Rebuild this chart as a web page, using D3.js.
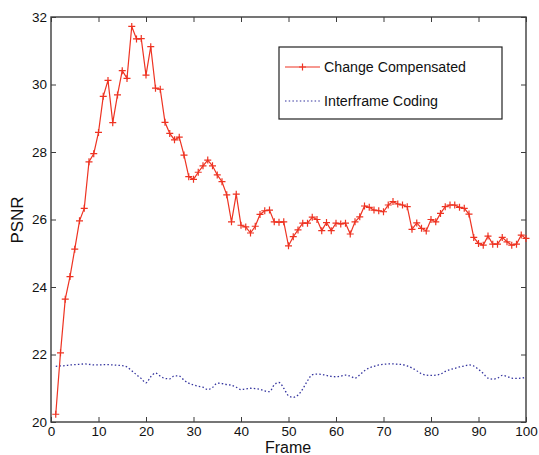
<!DOCTYPE html>
<html>
<head>
<meta charset="utf-8">
<script src="https://cdn.jsdelivr.net/npm/d3@7"></script>
<style>
  body { margin: 0; background: #fff; }
  svg { display: block; font-family: "Liberation Sans", Arial, sans-serif; }
</style>
</head>
<body>
<div id="chart"></div>
<script>
// PSNR per frame
const frames = d3.range(1, 101);

const changeCompensated = [
  20.23, 22.05, 23.64, 24.31, 25.12, 25.96, 26.33, 27.71, 27.95, 28.58,
  29.65, 30.12, 28.87, 29.69, 30.41, 30.18, 31.72, 31.35, 31.36, 30.28,
  31.12, 29.89, 29.86, 28.88, 28.55, 28.36, 28.44, 27.91, 27.27, 27.19,
  27.40, 27.59, 27.76, 27.59, 27.32, 27.12, 26.73, 25.93, 26.75, 25.83,
  25.78, 25.60, 25.80, 26.15, 26.26, 26.28, 25.93, 25.92, 25.93, 25.22,
  25.49, 25.69, 25.89, 25.89, 26.07, 26.00, 25.67, 25.91, 25.67, 25.89,
  25.87, 25.89, 25.57, 25.93, 26.08, 26.40, 26.36, 26.28, 26.26, 26.23,
  26.43, 26.53, 26.46, 26.43, 26.38, 25.71, 25.90, 25.74, 25.66, 26.00,
  25.93, 26.18, 26.38, 26.43, 26.43, 26.36, 26.33, 26.16, 25.47, 25.29,
  25.24, 25.51, 25.27, 25.27, 25.47, 25.34, 25.24, 25.27, 25.54, 25.44
];

const interframeCoding = [
  21.65, 21.66, 21.67, 21.69, 21.70, 21.71, 21.72, 21.71, 21.69, 21.69,
  21.70, 21.70, 21.69, 21.68, 21.67, 21.63, 21.52, 21.40, 21.29, 21.16,
  21.34, 21.45, 21.36, 21.29, 21.28, 21.37, 21.36, 21.24, 21.15, 21.10,
  21.06, 21.03, 20.96, 21.02, 21.15, 21.14, 21.11, 21.09, 21.03, 20.96,
  20.98, 21.00, 20.99, 20.97, 20.92, 20.90, 21.10, 21.17, 21.00, 20.78,
  20.73, 20.80, 20.98, 21.22, 21.40, 21.42, 21.41, 21.38, 21.35, 21.34,
  21.36, 21.39, 21.36, 21.30, 21.40, 21.52, 21.60, 21.65, 21.69, 21.71,
  21.72, 21.72, 21.71, 21.70, 21.66, 21.60, 21.52, 21.43, 21.39, 21.38,
  21.39, 21.42, 21.50, 21.55, 21.59, 21.63, 21.66, 21.69, 21.66, 21.56,
  21.44, 21.30, 21.27, 21.30, 21.38, 21.35, 21.30, 21.29, 21.30, 21.32
];

const xTicks = [0, 10, 20, 30, 40, 50, 60, 70, 80, 90, 100];
const yTicks = [20, 22, 24, 26, 28, 30, 32];
const seriesNames = ['Change Compensated', 'Interframe Coding'];

const width = 539, height = 455;
const margin = { top: 17, right: 13, bottom: 33, left: 51 };
const innerW = width - margin.left - margin.right;
const innerH = height - margin.top - margin.bottom;

const RED = '#ee3322';
const BLUE = '#33339e';
const AXIS = '#3c3c3c';

const svg = d3.select('#chart').append('svg')
  .attr('width', width)
  .attr('height', height);

const g = svg.append('g')
  .attr('transform', `translate(${margin.left},${margin.top})`);

const x = d3.scaleLinear().domain([0, 100]).range([0, innerW]);
const y = d3.scaleLinear().domain([20, 32]).range([innerH, 0]);

// 坐标轴（刻度朝内，四边都有）
const styleAxis = sel => {
  sel.select('.domain').remove();
  sel.selectAll('line').attr('stroke', AXIS);
  sel.selectAll('text').attr('fill', '#111').attr('font-size', '13.5px');
};

g.append('g')
  .attr('transform', `translate(0,${innerH})`)
  .call(d3.axisBottom(x).tickValues(xTicks).tickSizeInner(-5).tickSizeOuter(0).tickPadding(4))
  .call(styleAxis);

g.append('g')
  .call(d3.axisTop(x).tickValues(xTicks).tickSizeInner(-5).tickSizeOuter(0).tickFormat(''))
  .call(styleAxis);

g.append('g')
  .call(d3.axisLeft(y).tickValues(yTicks).tickSizeInner(-5).tickSizeOuter(0).tickPadding(4))
  .call(styleAxis);

g.append('g')
  .attr('transform', `translate(${innerW},0)`)
  .call(d3.axisRight(y).tickValues(yTicks).tickSizeInner(-5).tickSizeOuter(0).tickFormat(''))
  .call(styleAxis);

// 边框
g.append('rect')
  .attr('width', innerW)
  .attr('height', innerH)
  .attr('fill', 'none')
  .attr('stroke', AXIS)
  .attr('stroke-width', 1.4);

// 蓝色点线
const smooth = d3.line()
  .x((d, i) => x(frames[i]))
  .y(d => y(d))
  .curve(d3.curveMonotoneX);

g.append('path')
  .datum(interframeCoding)
  .attr('d', smooth)
  .attr('fill', 'none')
  .attr('stroke', BLUE)
  .attr('stroke-width', 1.3)
  .attr('stroke-dasharray', '1.5,2.2');

// 红色折线 + 十字标记
const line = d3.line()
  .x((d, i) => x(frames[i]))
  .y(d => y(d));

g.append('path')
  .datum(changeCompensated)
  .attr('d', line)
  .attr('fill', 'none')
  .attr('stroke', RED)
  .attr('stroke-width', 1.2);

const plus = 3.5;
g.append('g')
  .selectAll('path')
  .data(changeCompensated)
  .join('path')
  .attr('d', (d, i) => {
    const cx = x(frames[i]), cy = y(d);
    return `M${cx - plus},${cy}H${cx + plus}M${cx},${cy - plus}V${cy + plus}`;
  })
  .attr('stroke', RED)
  .attr('stroke-width', 1.2);

// 图例
const legend = svg.append('g').attr('transform', 'translate(279,47)');
legend.append('rect')
  .attr('width', 223)
  .attr('height', 72)
  .attr('fill', '#fff')
  .attr('stroke', '#222')
  .attr('stroke-width', 1.2);

const legendColors = [RED, BLUE];
const legendWidths = [142, 114];
seriesNames.forEach((name, i) => {
  const ly = 20 + i * 34;
  legend.append('line')
    .attr('x1', 6).attr('x2', 41)
    .attr('y1', ly).attr('y2', ly)
    .attr('stroke', legendColors[i])
    .attr('stroke-width', 1.2)
    .attr('stroke-dasharray', i === 1 ? '1.5,2.2' : null);
  if (i === 0) {
    legend.append('path')
      .attr('d', `M${23.5 - plus},${ly}H${23.5 + plus}M23.5,${ly - plus}V${ly + plus}`)
      .attr('stroke', RED)
      .attr('stroke-width', 1.2);
  }
  legend.append('text')
    .attr('x', 45)
    .attr('y', ly + 5)
    .attr('font-size', '14px')
    .attr('fill', '#111')
    .attr('textLength', legendWidths[i])
    .attr('lengthAdjust', 'spacingAndGlyphs')
    .text(name);
});

// 轴标题
svg.append('text')
  .attr('x', 288)
  .attr('y', 453)
  .attr('text-anchor', 'middle')
  .attr('font-size', '16px')
  .attr('fill', '#111')
  .text('Frame');

svg.append('text')
  .attr('transform', `translate(23,${margin.top + 203}) rotate(-90)`)
  .attr('text-anchor', 'middle')
  .attr('font-size', '17px')
  .attr('fill', '#111')
  .text('PSNR');
</script>
</body>
</html>
